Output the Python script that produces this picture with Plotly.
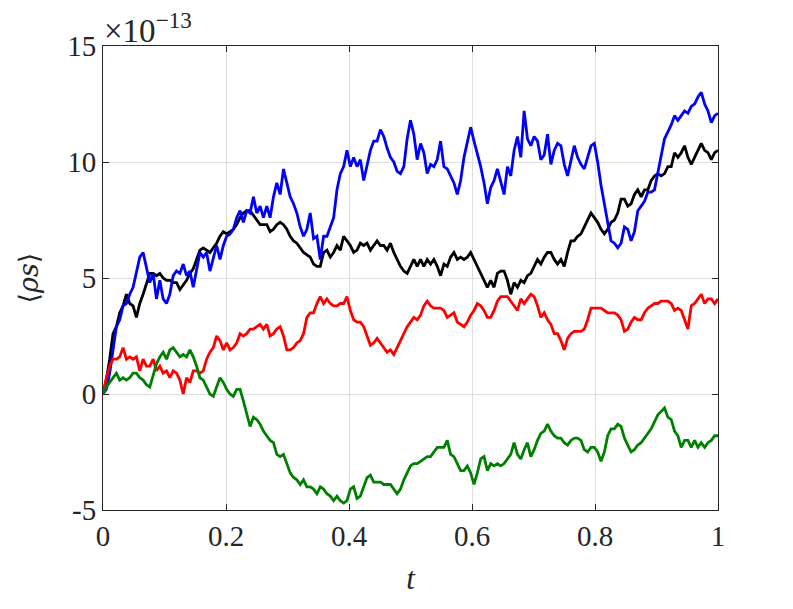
import numpy as np
import plotly.graph_objects as go

# values in units of 1e-13, sampled on a uniform time grid t in [0, 1]
blue_vals = [
    0, 0.2, 0.9, 2.0, 2.9, 3.2, 3.8, 3.9, 4.3, 4.6, 5.2, 5.9, 6.1, 5.5, 4.8, 5.2, 4.1, 4.9, 4.1, 3.9,
    4.3, 5.1, 5.3, 5.2, 5.6, 5.1, 5.3, 4.6, 5.3, 6.1, 5.9, 6.1, 5.3, 5.9, 6.4, 5.8, 6.4, 6.8, 6.9, 7.1,
    7.6, 7.9, 7.4, 7.9, 7.8, 8.5, 7.8, 8.1, 7.6, 8.1, 7.6, 8.5, 9.1, 8.6, 9.7, 9.1, 8.5, 8.2, 7.8, 7.2,
    6.8, 7.1, 7.8,
    6.7, 6.8, 5.8, 6.8, 6.8, 7.2, 7.6, 8.8, 9.5, 9.8, 10.5, 9.8, 10.2, 9.8, 10.1, 9.2, 9.8, 10.5, 10.9, 10.9,
    11.4, 11.1, 10.6, 10.2, 10.0, 9.6, 9.5, 9.8, 11.0, 11.8, 11.2, 10.1, 10.8, 10.4, 9.5, 9.9, 9.8, 10.1, 10.9, 9.8,
    9.7, 9.4, 9.1, 8.6, 9.2, 10.2, 10.8, 11.5, 10.9, 10.4, 9.8, 9.1, 8.2, 8.9, 9.2, 9.7, 9.2, 8.6, 9.8, 9.4,
    10.5, 11.1, 10.2, 12.2, 11.0, 10.7, 11.1, 10.9, 10.1, 10.3, 11.2, 9.9, 10.5, 10.8, 10.7, 9.9, 9.4, 10.1, 10.7, 10.2,
    9.9, 9.7, 10.2, 10.7, 10.8, 10.0, 9.0, 8.2, 7.3, 6.6, 6.5, 6.3, 6.5, 7.2, 7.1, 6.6, 7.0, 7.9, 8.1, 8.3,
    8.7, 8.7, 8.8, 9.5, 10.3, 11.0, 11.3, 11.6, 12.0, 11.8, 12.0, 12.2, 12.1, 12.4, 12.5, 12.8, 13.0, 12.5, 12.2, 11.7,
    12.0, 12.1,
]
black_vals = [
    0, 0.6, 1.5, 2.6, 2.9, 3.5, 3.8, 4.3, 3.9, 3.8, 3.3, 3.9, 4.3, 4.8, 5.2, 5.2, 5.1, 5.2, 5.0, 4.9,
    4.9, 4.8, 4.8, 4.5, 4.7, 4.9, 5.2, 5.4, 5.8, 6.2, 6.3, 6.2, 6.1, 6.3, 6.5, 6.8, 7.0, 6.9, 7.0, 7.1,
    7.3, 7.6, 7.8, 7.9, 7.9, 7.7, 7.5, 7.3, 7.3, 7.3, 7.0, 7.1, 7.3, 7.4, 7.3, 7.1, 6.8, 6.6, 6.5, 6.3,
    6.1, 6.0, 5.9,
    5.6, 5.5, 5.5, 6.1, 6.2, 5.9, 6.1, 6.4, 6.2, 6.8, 6.6, 6.4, 6.1, 6.2, 6.5, 6.4, 6.5, 6.2, 6.4, 6.6,
    6.4, 6.4, 6.2, 6.5, 6.1, 5.8, 5.5, 5.3, 5.2, 5.5, 5.8, 5.5, 5.8, 5.5, 5.8, 5.6, 5.8, 5.5, 5.1, 5.6,
    5.5, 5.9, 6.1, 5.8, 5.9, 5.8, 5.9, 6.1, 5.8, 5.5, 5.2, 4.9, 4.6, 4.9, 4.6, 5.2, 5.3, 5.3, 4.9, 4.3,
    4.8, 4.6, 4.9, 4.8, 5.1, 5.2, 5.5, 5.8, 5.6, 5.9, 6.1, 6.1, 5.8, 5.6, 5.8, 5.5, 6.1, 6.6, 6.6, 6.8,
    6.9, 7.2, 7.5, 7.8, 7.6, 7.4, 7.1, 6.9, 7.1, 7.4, 7.5, 7.8, 8.4, 8.4, 8.1, 8.2, 8.6, 8.8, 8.5, 8.8,
    8.8, 9.2, 9.4, 9.5, 9.4, 9.5, 9.8, 9.8, 10.4, 10.2, 10.4, 10.7, 10.2, 9.9, 10.2, 10.5, 10.8, 10.5, 10.4, 10.1,
    10.4, 10.5,
]
red_vals = [
    0, 0.7, 1.2, 1.5, 1.5, 1.6, 2.0, 1.5, 1.6, 1.5, 1.6, 1.0, 1.5, 1.2, 1.2, 1.5, 1.0, 1.2, 0.9, 1.0,
    0.7, 1.0, 0.9, 0.6, 0.0, 0.7, 0.5, 1.0, 1.0, 0.9, 1.0, 1.5, 1.8, 2.0, 2.5, 2.3, 1.9, 2.2, 1.9, 2.0,
    2.2, 2.6, 2.5, 2.6, 2.8, 2.8, 2.9, 3.0, 2.8, 3.0, 2.5, 2.6, 2.8, 2.9, 2.5, 1.9, 1.9, 2.0, 2.2, 2.3,
    2.6, 3.3, 3.5,
    3.5, 3.9, 4.2, 3.9, 4.1, 3.9, 3.8, 3.8, 3.9, 3.9, 4.2, 3.6, 3.2, 3.1, 3.1, 2.9, 2.5, 2.1, 2.2, 2.4,
    2.2, 2.0, 1.8, 1.9, 1.7, 2.0, 2.3, 2.6, 2.9, 3.1, 3.3, 3.2, 3.4, 3.8, 4.0, 3.8, 3.7, 3.7, 3.7, 3.6,
    3.3, 3.4, 3.5, 3.1, 3.0, 2.9, 3.1, 3.4, 3.6, 3.9, 3.8, 3.6, 3.3, 3.3, 3.6, 4.0, 4.2, 4.2, 4.2, 4.0,
    3.8, 3.6, 4.1, 3.9, 4.1, 4.3, 4.2, 3.8, 3.3, 3.5, 3.2, 3.0, 2.6, 2.6, 2.3, 1.9, 2.4, 2.6, 2.7, 2.7,
    2.7, 2.8, 3.2, 3.7, 3.7, 3.7, 3.7, 3.6, 3.5, 3.5, 3.5, 3.4, 3.2, 2.7, 2.8, 3.1, 3.3, 3.2, 3.2, 3.5,
    3.7, 3.8, 3.9, 3.9, 4.0, 4.0, 4.0, 3.9, 3.6, 3.7, 3.6, 3.2, 2.8, 3.8, 3.9, 4.1, 4.3, 3.9, 4.1, 4.1,
    3.9, 4.1,
]
green_vals = [
    0, 0.3, 0.5, 0.7, 0.9, 0.6, 0.7, 0.6, 0.7, 0.9, 0.9, 0.7, 0.6, 0.4, 0.3, 0.8, 1.3, 1.6, 1.8, 1.5,
    1.9, 2.0, 1.8, 1.6, 1.7, 1.6, 1.9, 1.6, 1.2, 0.7, 0.6, 0.3, 0.0, -0.1, 0.3, 0.7, 0.5, 0.2, 0.0, -0.1,
    0.2, 0.2, -0.3, -0.8, -1.4, -1.0, -1.1, -1.3, -1.6, -1.8, -2.0, -2.1, -2.6, -2.7, -2.6, -3.0, -3.4, -3.6, -3.7, -3.9,
    -3.7, -4.0, -4.0,
    -4.1, -4.3, -4.0, -4.1, -4.3, -4.4, -4.6, -4.4, -4.6, -4.7, -4.6, -4.1, -4.0, -4.5, -4.4, -4.0, -3.6, -3.5, -3.8, -3.8,
    -3.8, -3.9, -3.9, -3.9, -4.1, -4.3, -4.1, -3.7, -3.4, -3.1, -3.0, -3.0, -2.9, -2.8, -2.7, -2.7, -2.5, -2.3, -2.3, -2.3,
    -2.0, -2.6, -2.7, -3.0, -3.3, -3.3, -3.1, -3.4, -3.9, -3.4, -2.8, -2.7, -3.3, -3.0, -3.1, -3.0, -3.1, -3.0, -2.8, -2.6,
    -2.1, -2.6, -2.8, -2.4, -2.1, -2.7, -2.4, -2.0, -1.7, -1.6, -1.3, -1.6, -1.8, -1.9, -1.9, -2.1, -2.2, -2.0, -1.9, -1.9,
    -2.0, -2.4, -2.5, -2.3, -2.3, -2.5, -2.9, -2.5, -1.8, -1.5, -1.5, -1.3, -1.4, -1.9, -2.2, -2.5, -2.4, -2.2, -2.1, -1.9,
    -1.7, -1.5, -1.2, -0.9, -0.75, -0.6, -1.0, -1.1, -1.6, -1.8, -2.3, -2.0, -2.0, -2.3, -2.0, -2.3, -2.1, -2.3, -2.1, -2.0,
    -1.8, -1.8,
]

t = np.linspace(0, 1, len(blue_vals))

x_ticks = [0, 0.2, 0.4, 0.6, 0.8, 1]
x_labels = ['0', '0.2', '0.4', '0.6', '0.8', '1']
y_ticks = [-5, 0, 5, 10, 15]
y_labels = ['-5', '0', '5', '10', '15']

series = [
    ('black', black_vals, '#000000'),
    ('blue', blue_vals, '#0000ff'),
    ('red', red_vals, '#ff0000'),
    ('green', green_vals, '#008000'),
]

FONT = 'Liberation Serif, DejaVu Serif, serif'
AXCOL = '#262626'

fig = go.Figure()
for name, vals, col in series:
    fig.add_trace(go.Scatter(x=t, y=vals, mode='lines', name=name,
                             line=dict(color=col, width=2.8)))

axis_common = dict(showline=True, linecolor=AXCOL, linewidth=1, mirror='ticks',
                   ticks='inside', ticklen=6, tickcolor=AXCOL, automargin=False,
                   showgrid=True, gridcolor='#dedede', gridwidth=1, zeroline=False,
                   tickfont=dict(family=FONT, size=29, color=AXCOL))

fig.update_xaxes(range=[0, 1], tickvals=x_ticks, ticktext=x_labels,
                 title=dict(text='<i>t</i>', font=dict(family=FONT, size=31, color=AXCOL), standoff=16),
                 **axis_common)
fig.update_yaxes(range=[-5, 15], tickvals=y_ticks, ticktext=y_labels,
                 title=dict(text='⟨<i>ρs</i>⟩', font=dict(family='DejaVu Serif, serif', size=27, color=AXCOL),
                            standoff=20),
                 **axis_common)

fig.add_annotation(xref='paper', yref='paper', x=0.0, y=1.0, xanchor='left', yanchor='bottom',
                   yshift=-4, borderpad=0, text='×10<sup>−13</sup>', showarrow=False,
                   font=dict(family=FONT, size=33, color=AXCOL))

# page body adds an 8px margin, so the plot margins are shifted to compensate
fig.update_layout(width=793, height=609, showlegend=False,
                  paper_bgcolor='white', plot_bgcolor='white',
                  margin=dict(l=95, r=83, t=38, b=107))

fig.write_html('out.html')
